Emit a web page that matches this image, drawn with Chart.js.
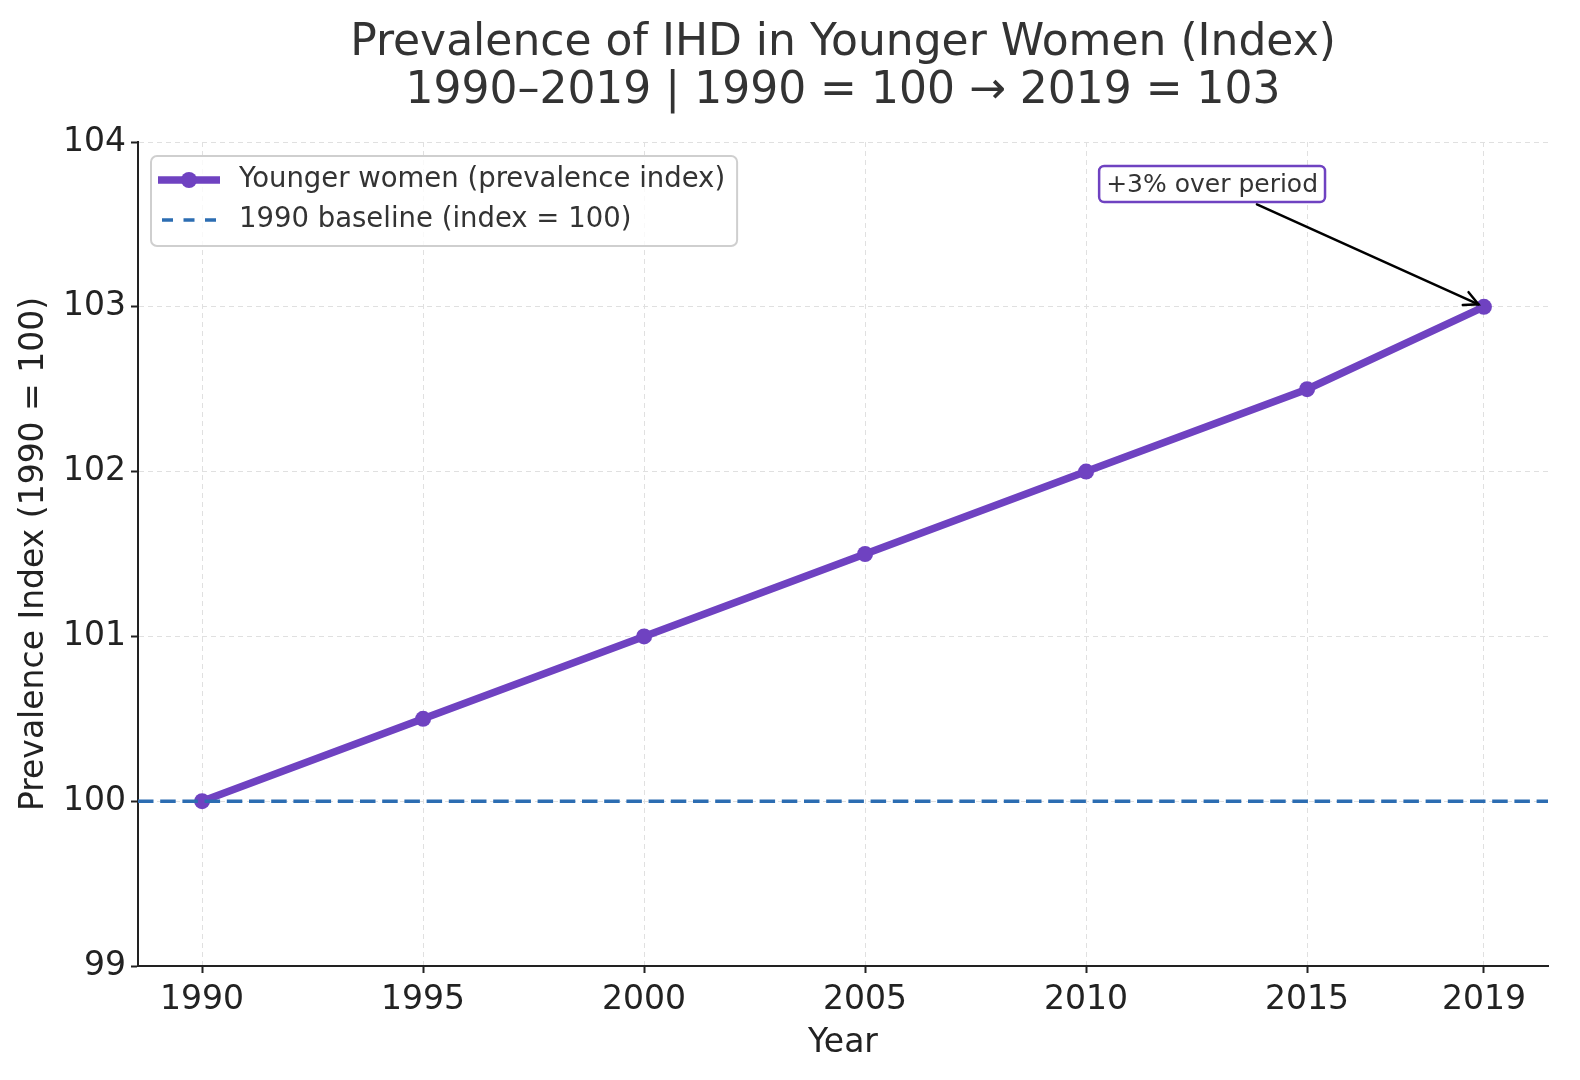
<!DOCTYPE html>
<html><head><meta charset="utf-8">
<script src="https://cdn.jsdelivr.net/npm/chart.js@4.4.0/dist/chart.umd.min.js"></script>
<style>html,body{margin:0;padding:0;background:#fff;}canvas{display:block;}</style>
</head><body>
<canvas id="c" width="1580" height="1080"></canvas>
<script>
// ---- data ----
const years = [1990, 1995, 2000, 2005, 2010, 2015, 2019];
const prevalenceIndex = [100, 100.5, 101, 101.5, 102, 102.5, 103];
const baselineValue = 100;
const xTicks = [1990, 1995, 2000, 2005, 2010, 2015, 2019];
const yTicks = [99, 100, 101, 102, 103, 104];
const xRange = [1988.55, 2020.45];
const yRange = [99, 104];
const titleLines = ['Prevalence of IHD in Younger Women (Index)', '1990\u20132019 | 1990 = 100 \u2192 2019 = 103'];
const seriesLabels = ['Younger women (prevalence index)', '1990 baseline (index = 100)'];
const xTitle = 'Year';
const yTitle = 'Prevalence Index (1990 = 100)';
const annotationText = '+3% over period';
const annotationAt = [2012.85, 103.745];
const annotationTarget = [years[years.length - 1], prevalenceIndex[prevalenceIndex.length - 1]];

const PURPLE = '#6f42c1', BLUE = '#2c6db2', INK = '#222222', TXT = '#333333';
const FONT = "'DejaVu Sans', sans-serif";

const overlay = {
  id: 'overlay',
  afterDraw(chart) {
    const ctx = chart.ctx, ca = chart.chartArea;
    const xs = chart.scales.x, ys = chart.scales.y;
    ctx.save();
    // Title
    ctx.fillStyle = TXT;
    ctx.font = '44px ' + FONT;
    ctx.textAlign = 'center';
    ctx.textBaseline = 'alphabetic';
    const cx = (ca.left + ca.right) / 2;
    ctx.fillText(titleLines[0], cx, 55);
    ctx.fillText(titleLines[1], cx, 103);

    // Legend
    ctx.font = '27.5px ' + FONT;
    const tw = Math.max(...seriesLabels.map(t => ctx.measureText(t).width));
    const lx = ca.left + 13, ly = ca.top + 14;
    const lw = 88 + tw + 12, lh = 90;
    ctx.beginPath();
    ctx.roundRect(lx, ly, lw, lh, 6);
    ctx.fillStyle = 'rgba(255,255,255,0.8)';
    ctx.fill();
    ctx.lineWidth = 2;
    ctx.strokeStyle = '#cfcfcf';
    ctx.stroke();
    const r1 = ly + 24, r2 = ly + 64;
    ctx.beginPath();
    ctx.moveTo(lx + 7, r1); ctx.lineTo(lx + 69, r1);
    ctx.lineWidth = 7.5; ctx.strokeStyle = PURPLE; ctx.setLineDash([]); ctx.stroke();
    ctx.beginPath(); ctx.arc(lx + 38, r1, 8, 0, Math.PI * 2); ctx.fillStyle = PURPLE; ctx.fill();
    ctx.beginPath();
    ctx.moveTo(lx + 11, r2); ctx.lineTo(lx + 67, r2);
    ctx.lineWidth = 3.5; ctx.strokeStyle = BLUE; ctx.setLineDash([11, 10.5]); ctx.stroke();
    ctx.setLineDash([]);
    ctx.fillStyle = TXT;
    ctx.textAlign = 'left';
    ctx.textBaseline = 'middle';
    ctx.fillText(seriesLabels[0], lx + 88, r1);
    ctx.fillText(seriesLabels[1], lx + 88, r2);

    // Annotation
    const ax = xs.getPixelForValue(annotationAt[0]), ay = ys.getPixelForValue(annotationAt[1]);
    const px = xs.getPixelForValue(annotationTarget[0]), py = ys.getPixelForValue(annotationTarget[1]);
    ctx.font = '25px ' + FONT;
    const aw = ctx.measureText(annotationText).width;
    const bw = aw + 14, bh = 36;
    const bx = ax - bw / 2, by = ay - bh / 2;
    // arrow
    const dx = px - ax, dy = py - ay, len = Math.hypot(dx, dy);
    const ux = dx / len, uy = dy / len;
    const tEdge = Math.min((bw / 2) / Math.abs(ux || 1e-9), (bh / 2) / Math.abs(uy || 1e-9));
    const sx = ax + ux * (tEdge + 5.5), sy = ay + uy * (tEdge + 5.5);
    const ex = px - ux * 6, ey = py - uy * 6;
    ctx.beginPath();
    ctx.moveTo(sx, sy); ctx.lineTo(ex, ey);
    ctx.lineWidth = 2.5; ctx.strokeStyle = '#000'; ctx.lineCap = 'round'; ctx.stroke();
    const hl = 14, hw = 7;
    ctx.beginPath();
    ctx.moveTo(ex - ux * hl - uy * hw, ey - uy * hl + ux * hw);
    ctx.lineTo(ex, ey);
    ctx.lineTo(ex - ux * hl + uy * hw, ey - uy * hl - ux * hw);
    ctx.stroke();
    ctx.lineCap = 'butt';
    // box
    ctx.beginPath();
    ctx.roundRect(bx, by, bw, bh, 5);
    ctx.fillStyle = '#fff'; ctx.fill();
    ctx.lineWidth = 2.5; ctx.strokeStyle = PURPLE; ctx.stroke();
    ctx.fillStyle = TXT;
    ctx.textAlign = 'center';
    ctx.textBaseline = 'middle';
    ctx.fillText(annotationText, ax, ay + 1);
    ctx.restore();
  }
};

const gridCommon = { color: '#e0e0e0', lineWidth: 1, tickLength: 7, tickColor: INK, tickWidth: 2 };
const borderCommon = { display: true, color: INK, width: 2, dash: [5, 4] };

new Chart(document.getElementById('c').getContext('2d'), {
  type: 'line',
  data: {
    datasets: [
      {
        label: seriesLabels[0],
        data: years.map((yr, i) => ({ x: yr, y: prevalenceIndex[i] })),
        borderColor: PURPLE, backgroundColor: PURPLE,
        borderWidth: 7.5, pointRadius: 8, pointBorderWidth: 0,
        pointBackgroundColor: PURPLE, tension: 0, order: 2, fill: false
      },
      {
        label: seriesLabels[1],
        data: [{ x: xRange[0], y: baselineValue }, { x: xRange[1], y: baselineValue }],
        borderColor: BLUE, borderWidth: 3.5, borderDash: [15.5, 6.7],
        pointRadius: 0, order: 1, fill: false
      }
    ]
  },
  options: {
    responsive: false, animation: false, devicePixelRatio: 1,
    layout: { padding: { top: 142, right: 32, left: 0, bottom: 0 } },
    plugins: { legend: { display: false }, title: { display: false }, tooltip: { enabled: false } },
    scales: {
      x: {
        type: 'linear', min: xRange[0], max: xRange[1],
        afterBuildTicks: s => { s.ticks = xTicks.map(v => ({ value: v })); },
        afterFit: s => { s.height = 114; },
        ticks: { font: { family: FONT, size: 33 }, color: INK, padding: 8, autoSkip: false, maxRotation: 0, callback: v => String(v) },
        grid: gridCommon, border: borderCommon,
        title: { display: true, text: xTitle, font: { family: FONT, size: 33 }, color: INK, padding: { top: 0, bottom: 17 } }
      },
      y: {
        type: 'linear', min: yRange[0], max: yRange[1],
        afterBuildTicks: s => { s.ticks = yTicks.map(v => ({ value: v })); },
        afterFit: s => { s.width = 138; },
        ticks: { font: { family: FONT, size: 33 }, color: INK, padding: 5, callback: v => String(v) },
        grid: gridCommon, border: borderCommon,
        title: { display: true, text: yTitle, font: { family: FONT, size: 33 }, color: INK, padding: { top: 15, bottom: 0 } }
      }
    }
  },
  plugins: [overlay]
});
</script>
</body></html>
